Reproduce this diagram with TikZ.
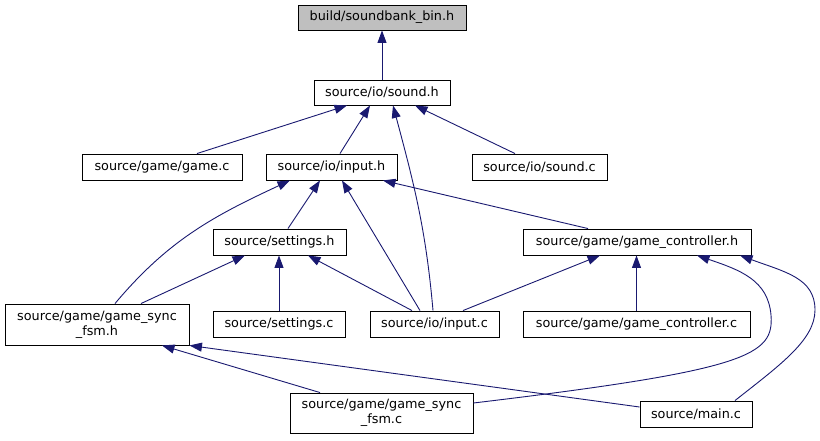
\documentclass[tikz,border=0pt]{standalone}
\usepackage{fontspec}
\setmainfont{DejaVu Sans}
\usetikzlibrary{arrows.meta}
\definecolor{edgeblue}{RGB}{25,25,112}
\definecolor{rootgray}{RGB}{191,191,191}
\begin{document}
\begin{tikzpicture}[x=1pt,y=1pt,
  box/.style={draw=black, line width=0.9pt, fill=white, inner sep=0pt, minimum height=26pt, align=center, font=\fontsize{12.8}{15}\selectfont},
  twoline/.style={box, minimum height=41pt},
  dep/.style={draw=edgeblue, line width=0.9pt, -{Triangle[length=12.5pt,width=9pt]}}]
\useasboundingbox (0,0) rectangle (820,440);
% nodes
\node[box, fill=rootgray, minimum width=168pt, minimum height=25pt] (bank) at (382,422.5) {build/soundbank\_bin.h};
\node[box, minimum width=136pt, minimum height=25pt] (soundh) at (382,347.5) {source/io/sound.h};
\node[box, minimum width=160pt] (gamec) at (162,273) {source/game/game.c};
\node[box, minimum width=131pt] (inputh) at (331.5,273) {source/io/input.h};
\node[box, minimum width=135pt] (soundc) at (539.5,273) {source/io/sound.c};
\node[box, minimum width=133pt] (settingsh) at (279.5,198) {source/settings.h};
\node[box, minimum width=228pt] (gch) at (637,198) {source/game/game\_controller.h};
\node[twoline, minimum width=184pt] (gsfh) at (97,115.5) {source/game/game\_sync\\\_fsm.h};
\node[box, minimum width=132pt] (settingsc) at (279,116) {source/settings.c};
\node[box, minimum width=129pt] (inputc) at (434.5,116) {source/io/input.c};
\node[box, minimum width=227pt] (gcc) at (636.5,116) {source/game/game\_controller.c};
\node[twoline, minimum width=183pt, minimum height=40pt] (gsfc) at (381.5,27) {source/game/game\_sync\\\_fsm.c};
\node[box, minimum width=112pt] (mainc) at (696,26) {source/main.c};
% edges
\draw[dep] (soundh) -- (bank);
\draw[dep] ([xshift=35pt]gamec.north) -- ([xshift=-35pt]soundh.south);
\draw[dep] ([xshift=8.5pt]inputh.north) -- ([xshift=-12pt]soundh.south);
\draw[dep] ([xshift=-1.5pt]inputc.north) to[out=95,in=-75] ([xshift=11pt]soundh.south);
\draw[dep] ([xshift=-24.5pt]soundc.north) -- ([xshift=33pt]soundh.south);
\draw[dep] ([xshift=8.5pt]settingsh.north) -- ([xshift=-11.5pt]inputh.south);
\draw[dep] ([xshift=18pt]gsfh.north) to[out=50,in=205] ([xshift=-41.5pt]inputh.south);
\draw[dep] ([xshift=-14.5pt]inputc.north) -- ([xshift=10.5pt]inputh.south);
\draw[dep] ([xshift=-49pt]gch.north) -- ([xshift=51.5pt]inputh.south);
\draw[dep] ([xshift=44pt]gsfh.north) -- ([xshift=-34.5pt]settingsh.south);
\draw[dep] (settingsc.north) -- (settingsc.north |- settingsh.south);
\draw[dep] ([xshift=-22.5pt]inputc.north) -- ([xshift=28.5pt]settingsh.south);
\draw[dep] ([xshift=28.5pt]inputc.north) -- ([xshift=-37pt]gch.south);
\draw[dep] (gcc.north) -- (gcc.north |- gch.south);
\draw[dep] ([yshift=10pt]gsfc.east) .. controls (750,70) and (774,85) .. (771,125) .. controls (768,160) and (740,170) .. ([xshift=60pt]gch.south);
\draw[dep] ([xshift=39pt]mainc.north) .. controls (780,75) and (815,100) .. (815,130) .. controls (815,162) and (785,168) .. ([xshift=103pt]gch.south);
\draw[dep] ([xshift=-61.5pt]gsfc.north) -- ([xshift=65pt]gsfh.south);
\draw[dep] ([yshift=7pt]mainc.west) -- (gsfh.south east);
\end{tikzpicture}
\end{document}
